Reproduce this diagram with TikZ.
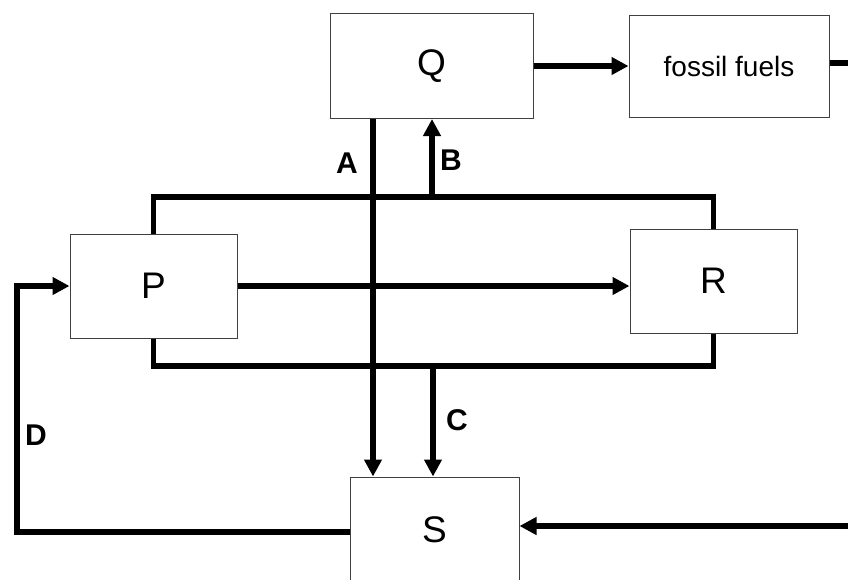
\documentclass[tikz,border=0pt]{standalone}
\usepackage{fontspec}
\setmainfont{Liberation Sans}
\usetikzlibrary{arrows.meta}
\begin{document}
\begin{tikzpicture}[x=1pt,y=-1pt,
  box/.style={draw=black!75, line width=1pt, fill=white, inner sep=0pt,
    font=\fontsize{37}{37}\selectfont},
  flow/.style={line width=5.5pt, -{Triangle[length=17pt,width=17pt]}},
  pipe/.style={line width=5.5pt, line join=miter},
  lbl/.style={font=\fontsize{30}{30}\selectfont\bfseries, inner sep=0pt}]
\useasboundingbox (0,0) rectangle (848,579);
\clip (0,0) rectangle (848,579);

% boxes
\node[box, minimum width=203pt, minimum height=105pt] (Q) at (431.5,66) {Q};
\node[box, minimum width=200pt, minimum height=102pt,
      font=\fontsize{28}{28}\selectfont] (F) at (729,66) {fossil fuels};
\node[box, minimum width=167pt, minimum height=104pt] (P) at (153.5,286) {P};
\node[box, minimum width=167pt, minimum height=104pt] (R) at (713.5,281) {R};
\node[box, minimum width=169pt, minimum height=106pt] (S) at (434.5,530) {S};

% helper coordinates
\coordinate (ax) at (373,0);
\coordinate (bx) at (432,0);
\coordinate (cx) at (433,0);
\coordinate (topbar) at (0,197);
\coordinate (botbar) at (0,366);
\coordinate (dx) at (17,0);
\coordinate (dy) at (0,532);
\coordinate (fout) at (860,63);
\coordinate (sin) at (860,526);

% loop linking P and R
\draw[pipe] (P.north) -- (P.north |- topbar) -- (R.north |- topbar) -- (R.north);
\draw[pipe] (P.south) -- (P.south |- botbar) -- (R.south |- botbar) -- (R.south);

% connectors
\draw[flow] (Q.east) -- (F.west);
\draw[pipe] (F.east |- fout) -- (fout);
\draw[flow] (P.east) -- (P.east -| R.west);
\draw[flow] (Q.south -| ax) -- (S.north -| ax);
\draw[flow] (bx |- topbar) -- (Q.south -| bx);
\draw[flow] (cx |- botbar) -- (S.north -| cx);
\draw[flow] (S.west |- dy) -- (dx |- dy) -- (dx |- P.west) -- (P.west);
\draw[flow] (sin) -- (sin -| S.east);

% labels
\node[lbl] (la) at (347,163) {A};
\node[lbl] (lb) at (451,160) {B};
\node[lbl] (lc) at (457,420) {C};
\node[lbl] (ld) at (36,435) {D};
\end{tikzpicture}
\end{document}
